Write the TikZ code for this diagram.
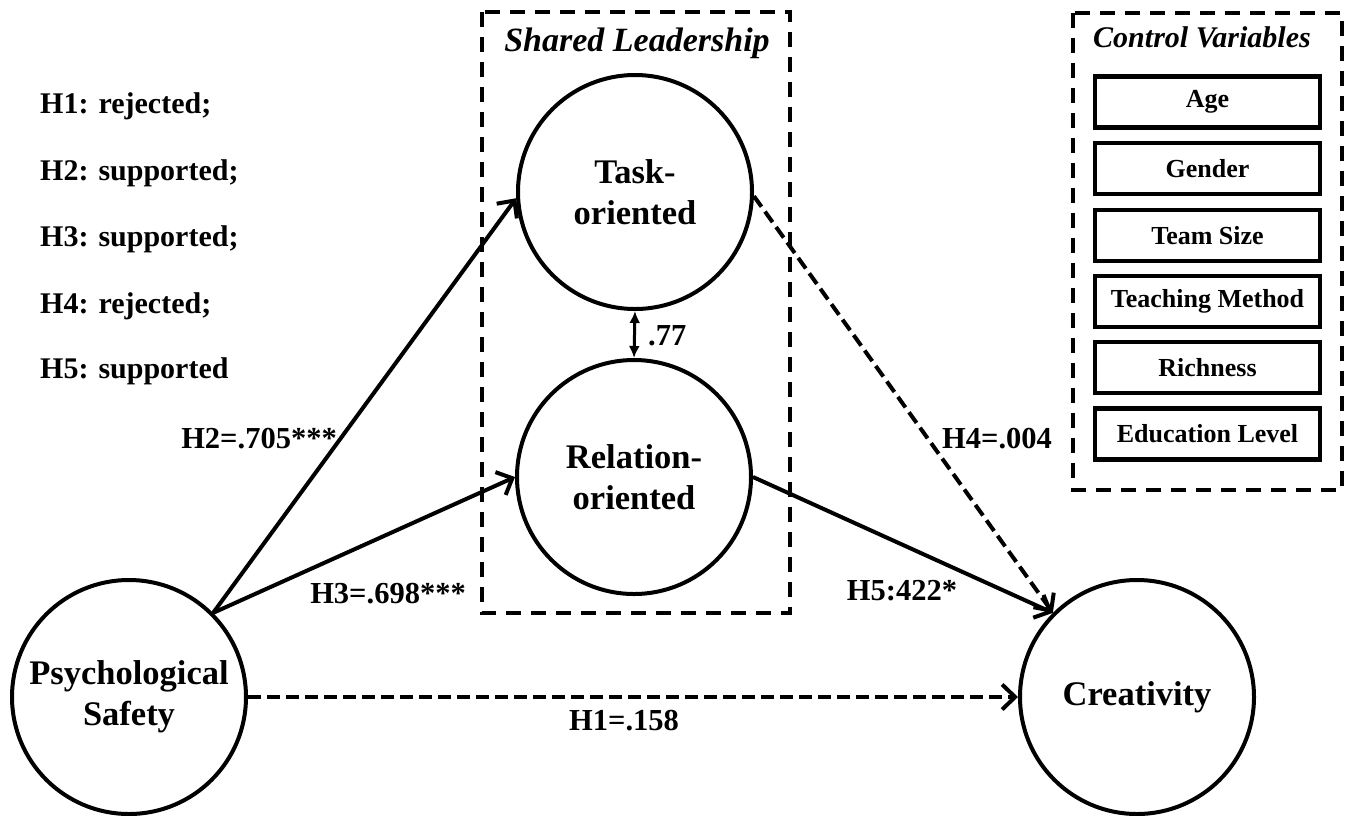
\documentclass[tikz,border=0pt]{standalone}
\usepackage{fontspec}
\setmainfont{Liberation Serif}
\usetikzlibrary{arrows.meta}
\begin{document}
\begin{tikzpicture}[x=1pt,y=-1pt,
  var/.style={draw, circle, line width=4pt, minimum size=234pt, inner sep=0pt, align=center,
    font=\fontsize{34.5}{41}\selectfont\bfseries},
  ctrl/.style={draw, line width=4.2pt, minimum width=225pt, minimum height=51pt, inner sep=0pt,
    font=\fontsize{26}{30}\selectfont\bfseries},
  grp/.style={draw, line width=4pt, dash pattern=on 15pt off 10pt},
  head/.style={inner sep=0pt, anchor=base, font=\fontsize{34}{40}\selectfont\bfseries\itshape},
  lbl/.style={inner sep=0pt, anchor=base, font=\fontsize{30.5}{36}\selectfont\bfseries},
  hyp/.style={inner sep=0pt, anchor=base west, font=\fontsize{30}{36}\selectfont\bfseries},
  arr/.style={line width=4pt, -{Straight Barb[length=13pt,width=25pt,line width=4pt]}},
  darr/.style={arr, dash pattern=on 13pt off 6pt},
  corr/.style={line width=3pt, {Latex[length=12pt,width=11pt]}-{Latex[length=12pt,width=11pt]}}
]
\useasboundingbox (0,0) rectangle (1350,815);

% group boxes
\draw[grp] (482,12) rectangle (790,613);
\draw[grp] (1073,13) rectangle (1342,490);
\node[head] (slh) at (637,51) {Shared Leadership};
\node[head, font=\fontsize{30}{36}\selectfont\bfseries\itshape] (cvh) at (1202,47) {Control Variables};

% control variables
\node[ctrl] (age) at (1207.5,102) {Age};
\node[ctrl] (gen) at (1207.5,168.5) {Gender};
\node[ctrl] (ts)  at (1207.5,235.5) {Team Size};
\node[ctrl] (tm)  at (1207.5,301.5) {Teaching Method};
\node[ctrl] (ric) at (1207.5,367.5) {Richness};
\node[ctrl] (edu) at (1207.5,434) {Education Level};

% hypotheses list
\node[hyp] (h1) at (40,113) {H1: rejected;};
\node[hyp] (h2) at (40,180) {H2: supported;};
\node[hyp] (h3) at (40,246) {H3: supported;};
\node[hyp] (h4) at (40,313) {H4: rejected;};
\node[hyp] (h5) at (40,378) {H5: supported};

% variables
\node[var] (ps) at (129,697) {Psychological\\Safety};
\node[var] (cr) at (1137,697) {Creativity};
\node[var] (task) at (635,192) {Task-\\oriented};
\node[var] (rel) at (634,477) {Relation-\\oriented};

% connectors
\draw[arr] (ps.45) -- (task.183);
\draw[arr] (ps.45) -- (rel.180);
\draw[arr] (rel.east) -- (cr.135);
\draw[darr] (task.-2) -- (cr.135);
\draw[darr] (ps.east) -- (cr.west);
\draw[corr] (task.south) -- (rel.north);

% labels
\node[lbl] (l2) at (259,448) {H2=.705***};
\node[lbl] (l3) at (388,603) {H3=.698***};
\node[lbl] (l1) at (624,730) {H1=.158};
\node[lbl] (l4) at (997,448) {H4=.004};
\node[lbl] (l5) at (902,600) {H5:422*};
\node[lbl, anchor=base west] (l77) at (648,345) {.77};
\end{tikzpicture}
\end{document}
